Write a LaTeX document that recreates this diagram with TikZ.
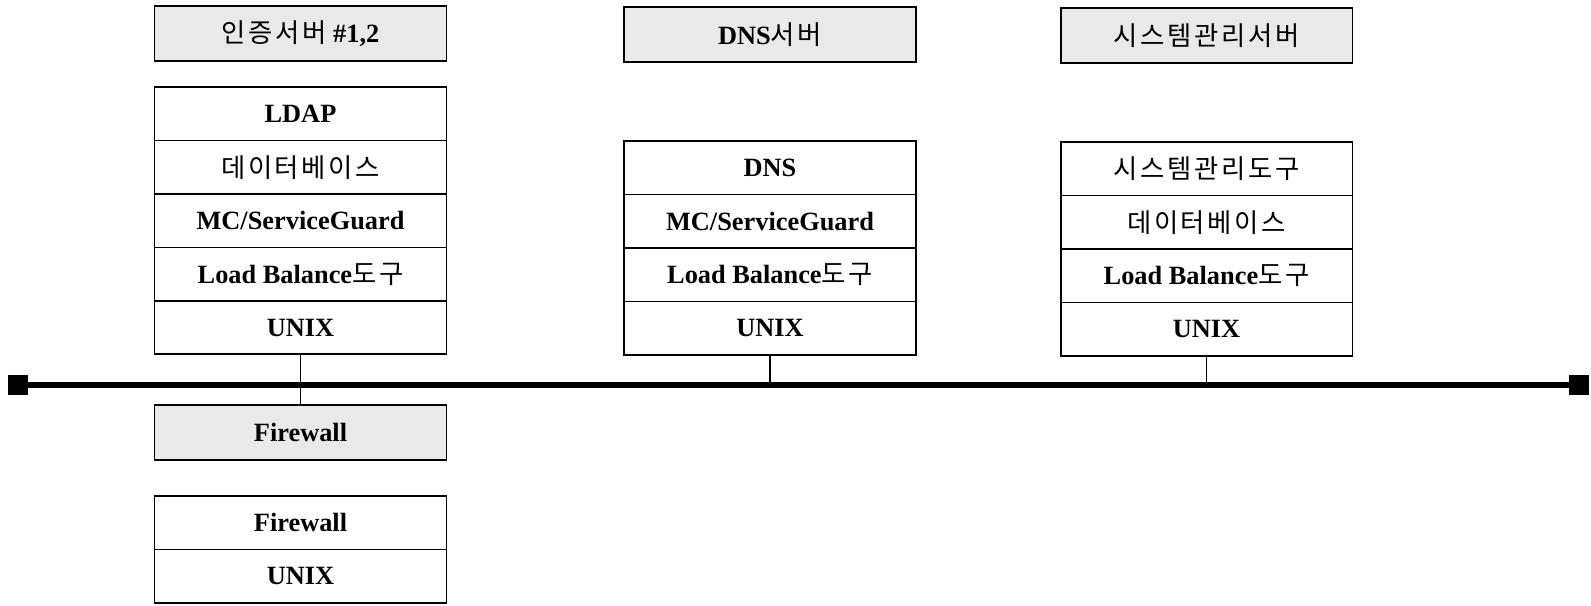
\documentclass[tikz,border=0pt]{standalone}
\usepackage{fontspec}
\setmainfont{Liberation Serif}
\newfontfamily\kofont[LetterSpace=10]{Noto Sans CJK KR}
\usetikzlibrary{positioning}
\newcommand{\ko}[1]{{\kofont\mdseries #1}}

\begin{document}
\begin{tikzpicture}[
	x=0.02cm, y=-0.02cm,
	every node/.style={font=\bfseries\fontsize{15}{18}\selectfont},
	cell/.style={draw, line width=1.1pt, outer sep=0pt, inner sep=0pt, anchor=north, minimum width=5.84cm, minimum height=1.07cm},
	head/.style={cell, fill=gray!17, minimum height=1.1cm},
	term/.style={draw, fill=black, inner sep=0pt, minimum size=0.38cm},
	bus/.style={line width=3.4pt},
	tick/.style={line width=1pt}
	]
	\useasboundingbox (0,0) rectangle (1591,605);
	
	% authentication server
	\node[head] (a0) at (300.5,6) {\ko{인증서버} \#1,2};
	\node[cell] (a1) at (300.5,87) {LDAP};
	\node[cell, below=0pt of a1] (a2) {\ko{데이터베이스}};
	\node[cell, below=0pt of a2] (a3) {MC/ServiceGuard};
	\node[cell, below=0pt of a3] (a4) {Load Balance\ko{도구}};
	\node[cell, below=0pt of a4] (a5) {UNIX};
	
	% DNS server
	\node[head] (b0) at (770,7) {DNS\ko{서버}};
	\node[cell] (b1) at (770,141) {DNS};
	\node[cell, below=0pt of b1] (b2) {MC/ServiceGuard};
	\node[cell, below=0pt of b2] (b3) {Load Balance\ko{도구}};
	\node[cell, below=0pt of b3] (b4) {UNIX};
	
	% system management server
	\node[head] (c0) at (1206.5,8) {\ko{시스템관리서버}};
	\node[cell] (c1) at (1206.5,142) {\ko{시스템관리도구}};
	\node[cell, below=0pt of c1] (c2) {\ko{데이터베이스}};
	\node[cell, below=0pt of c2] (c3) {Load Balance\ko{도구}};
	\node[cell, below=0pt of c3] (c4) {UNIX};
	
	% firewall
	\node[head] (fw) at (300.5,405) {Firewall};
	\node[cell] (f1) at (300.5,496) {Firewall};
	\node[cell, below=0pt of f1] (f2) {UNIX};
	
	% network bus
	\node[term] (tL) at (17.5,385) {};
	\node[term] (tR) at (1578.5,385) {};
	\draw[bus] (tL) -- (tR);
	
	\coordinate (ja) at (a5.south |- tL);
	\coordinate (jb) at (b4.south |- tL);
	\coordinate (jc) at (c4.south |- tL);
	\draw[tick] (a5.south) -- (ja);
	\draw[tick] (b4.south) -- (jb);
	\draw[tick] (c4.south) -- (jc);
	\draw[tick] (ja) -- (fw.north);
	
\end{tikzpicture}
\end{document}
